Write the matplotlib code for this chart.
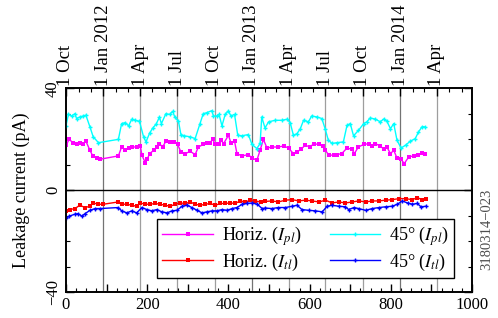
import numpy as np
import matplotlib
matplotlib.use("Agg")
import matplotlib.pyplot as plt
from matplotlib.ticker import MultipleLocator, FixedLocator, FuncFormatter

plt.rcParams['font.family'] = ['Liberation Serif', 'DejaVu Serif']
plt.rcParams['mathtext.fontset'] = 'stix'

# days since 1 Oct 2011
horiz_pl_x = [0, 8, 17, 26, 34, 41, 49, 59, 66, 76, 84, 129, 137, 146, 154, 162, 174, 183, 187, 195,
              200, 206, 216, 225, 230, 238, 246, 255, 267, 275, 283, 294, 306, 318, 326, 338, 347, 355,
              361, 367, 377, 382, 388, 400, 406, 415, 421, 433, 449, 458, 470, 478, 486, 495, 507, 523,
              536, 548, 560, 569, 579, 589, 601, 610, 622, 634, 639, 647, 659, 667, 679, 692, 704, 710,
              720, 733, 745, 753, 762, 774, 782, 790, 799, 807, 815, 825, 833, 844, 856, 866, 877, 885]
horiz_pl_y = [17.7, 20.0, 18.7, 18.0, 18.7, 18.0, 19.3, 15.7, 13.5, 12.7, 12.2, 13.5, 17.0, 15.7, 16.6,
              17.0, 17.0, 17.4, 13.8, 10.9, 12.2, 14.4, 15.7, 17.0, 18.3, 17.0, 19.3, 19.0, 19.0, 18.0,
              15.0, 14.4, 15.3, 14.0, 17.0, 18.0, 18.7, 18.7, 20.0, 18.3, 18.0, 19.7, 18.3, 21.6, 18.7,
              19.3, 14.4, 13.5, 14.0, 12.7, 11.8, 15.7, 20.0, 16.6, 17.0, 17.0, 17.4, 16.6, 14.4, 15.0,
              16.2, 17.7, 17.0, 18.3, 18.0, 17.4, 15.7, 13.8, 13.8, 14.0, 14.4, 16.6, 16.1, 14.4, 17.0,
              18.0, 18.3, 17.4, 18.3, 17.4, 16.2, 17.0, 14.4, 15.7, 12.7, 12.2, 10.5, 13.1, 13.5, 13.8,
              14.8, 14.4]

deg45_pl_x = [0, 6, 14, 22, 26, 34, 43, 49, 59, 67, 80, 129, 137, 146, 154, 162, 170, 181, 191, 197,
              206, 214, 222, 230, 235, 246, 255, 263, 268, 277, 283, 291, 306, 318, 330, 338, 347, 359,
              363, 371, 377, 384, 392, 400, 406, 415, 423, 433, 449, 458, 470, 478, 482, 490, 499, 515,
              531, 544, 552, 560, 569, 577, 585, 597, 605, 618, 630, 638, 646, 655, 667, 683, 692, 700,
              708, 720, 733, 741, 749, 761, 774, 782, 790, 799, 807, 815, 825, 836, 848, 860, 868, 877,
              885]
deg45_pl_y = [25.3, 29.8, 29.2, 30.1, 28.2, 28.8, 29.2, 29.5, 24.9, 21.0, 18.7, 20.0, 26.2, 26.6, 25.3,
              27.9, 27.5, 27.1, 21.0, 19.0, 22.5, 24.5, 26.0, 28.7, 26.2, 30.1, 29.8, 31.0, 28.7, 27.1,
              21.9, 21.4, 21.0, 20.3, 26.2, 30.1, 30.5, 31.3, 29.2, 29.2, 29.8, 25.3, 29.8, 31.2, 29.2,
              29.8, 21.6, 21.4, 21.9, 18.0, 16.4, 18.4, 28.8, 24.5, 26.9, 27.5, 27.5, 27.9, 26.6, 21.6,
              22.3, 24.2, 27.5, 26.9, 29.2, 28.8, 28.2, 24.2, 19.7, 18.4, 18.7, 19.0, 25.5, 26.2, 21.4,
              23.5, 26.2, 26.9, 28.4, 28.0, 26.9, 28.0, 27.2, 24.2, 26.2, 19.7, 16.6, 17.7, 19.3, 20.3,
              22.9, 25.0, 24.9]

horiz_tl_x = [0, 10, 22, 34, 47, 59, 67, 80, 92, 129, 137, 150, 162, 174, 183, 195, 207, 220, 232, 244,
              257, 269, 281, 294, 306, 318, 331, 343, 355, 368, 380, 392, 405, 417, 429, 442, 454, 466,
              479, 491, 507, 523, 540, 557, 573, 590, 606, 623, 639, 655, 672, 688, 705, 721, 738, 754,
              771, 787, 803, 820, 836, 853, 865, 877, 887]
horiz_tl_y = [-8.1, -7.6, -7.2, -5.9, -6.8, -6.3, -5.0, -5.5, -5.5, -4.6, -5.5, -5.5, -5.9, -6.3, -5.0,
              -5.5, -5.5, -5.2, -5.5, -5.9, -6.3, -5.5, -5.0, -5.2, -4.6, -5.5, -5.9, -5.5, -5.2, -5.9,
              -5.2, -5.2, -5.0, -5.2, -4.2, -4.6, -3.9, -4.2, -4.6, -4.4, -4.2, -4.6, -3.9, -3.7, -4.2,
              -3.9, -4.2, -4.6, -3.9, -5.0, -4.6, -5.0, -4.6, -4.2, -4.6, -4.2, -4.2, -3.9, -3.7, -3.3,
              -3.3, -3.7, -2.9, -3.7, -3.3]

deg45_tl_x = [0, 8, 22, 30, 39, 47, 59, 72, 84, 129, 137, 150, 162, 174, 187, 199, 211, 224, 236, 249,
              261, 273, 286, 298, 310, 323, 335, 347, 360, 372, 384, 397, 409, 421, 434, 446, 459, 471,
              483, 491, 507, 523, 540, 557, 569, 581, 598, 614, 631, 643, 655, 672, 688, 696, 709, 721,
              738, 754, 771, 787, 803, 816, 828, 841, 853, 865, 874, 887]
deg45_tl_y = [-11.1, -10.2, -9.4, -9.2, -10.2, -9.2, -7.9, -7.2, -7.2, -6.8, -8.1, -8.9, -8.1, -8.9,
              -6.8, -7.6, -8.1, -7.6, -8.5, -8.9, -8.1, -7.9, -6.3, -5.9, -6.8, -7.9, -8.9, -8.5, -8.1,
              -8.1, -7.6, -7.9, -7.2, -6.8, -5.5, -5.2, -5.0, -5.5, -7.2, -7.0, -7.2, -6.8, -6.8, -6.3,
              -5.9, -7.6, -7.9, -8.1, -8.5, -6.3, -5.9, -6.3, -6.5, -7.6, -6.8, -7.2, -7.9, -7.2, -6.8,
              -6.5, -6.3, -5.5, -4.2, -5.0, -5.5, -5.2, -6.5, -6.3]

quarter_dates = ['2011-10-01', '2012-01-01', '2012-04-01', '2012-07-01', '2012-10-01', '2013-01-01',
                 '2013-04-01', '2013-07-01', '2013-10-01', '2014-01-01', '2014-04-01']
quarter_labels = ['1 Oct', '1 Jan 2012', '1 Apr', '1 Jul', '1 Oct', '1 Jan 2013',
                  '1 Apr', '1 Jul', '1 Oct', '1 Jan 2014', '1 Apr']

t0 = np.datetime64('2011-10-01')
quarter_days = [(np.datetime64(d) - t0).astype(int) for d in quarter_dates]
month_days = (np.arange(np.datetime64('2011-10'), np.datetime64('2014-07'), dtype='datetime64[M]')
              .astype('datetime64[D]') - t0).astype(int)

fig = plt.figure(figsize=(4.98, 3.18), dpi=100)
ax = fig.add_axes([0.1325, 0.0818, 0.8155, 0.6399])

for d, lab in zip(quarter_days[1:], quarter_labels[1:]):
    c = '0.45' if lab.startswith('1 Jan') else '0.62'
    ax.axvline(d, color=c, lw=0.9, zorder=1)
ax.axhline(0, color='black', lw=1.0, zorder=1)

ax.plot(horiz_pl_x, horiz_pl_y, color='#ff00ff', lw=1.0, marker='s', ms=2.8, mew=0,
        label='Horiz. ($I_{pl}$)', zorder=3)
ax.plot(horiz_tl_x, horiz_tl_y, color='#ff0000', lw=1.0, marker='s', ms=2.8, mew=0,
        label='Horiz. ($I_{tl}$)', zorder=3)
ax.plot(deg45_pl_x, deg45_pl_y, color='#00ffff', lw=1.0, marker='+', ms=3, mew=1.0,
        label='45° ($I_{pl}$)', zorder=3)
ax.plot(deg45_tl_x, deg45_tl_y, color='#0000ff', lw=1.0, marker='+', ms=3, mew=1.0,
        label='45° ($I_{tl}$)', zorder=3)

ax.set_xlim(0, 1000)
ax.set_ylim(-40, 40)
ax.xaxis.set_major_locator(MultipleLocator(100))
ax.xaxis.set_minor_locator(MultipleLocator(25))
ax.xaxis.set_major_formatter(FuncFormatter(lambda v, p: f'{v:.0f}' if v % 200 == 0 else ''))
ax.yaxis.set_major_locator(MultipleLocator(40))
ax.yaxis.set_minor_locator(MultipleLocator(10))
ax.tick_params(which='both', direction='in', top=False, right=True, labelsize=12)
ax.tick_params(which='major', length=6, width=1)
ax.tick_params(which='minor', length=3, width=0.8)
for t in ax.get_yticklabels():
    t.set_rotation(90)
    t.set_va('center')
ax.set_ylabel('Leakage current (pA)', fontsize=13, labelpad=11)

top = ax.twiny()
top.set_xlim(ax.get_xlim())
top.xaxis.set_major_locator(FixedLocator(quarter_days))
top.xaxis.set_minor_locator(FixedLocator(month_days))
top.set_xticklabels(quarter_labels, rotation=90, fontsize=13.5)
top.tick_params(which='both', direction='in', pad=2)
top.tick_params(which='major', length=6, width=1)
top.tick_params(which='minor', length=3, width=0.8)

for a in (ax, top):
    for s in a.spines.values():
        s.set_linewidth(1.2)

h, l = ax.get_legend_handles_labels()
leg = ax.legend(h, l, ncol=2, loc='lower left',
                bbox_to_anchor=(0.224, 0.069, 0.732, 0.28), mode='expand', borderaxespad=0,
                fontsize=13, frameon=True, fancybox=False, edgecolor='black', framealpha=1,
                handlelength=2.8, handletextpad=0.5, columnspacing=1.0, labelspacing=0.2,
                borderpad=0.3)
leg.get_frame().set_linewidth(1.0)
leg.set_zorder(5)

fig.text(487 / 498, 0.28, '3180314\u2212023', rotation=90, fontsize=10.5, color='0.3',
         ha='center', va='center')

fig.savefig('out.png', dpi=100)
